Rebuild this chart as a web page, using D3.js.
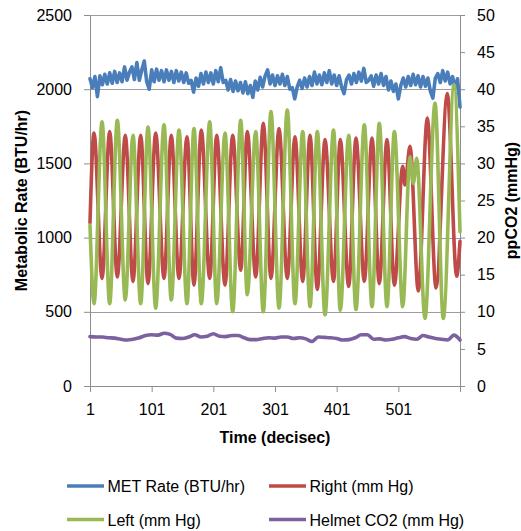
<!DOCTYPE html>
<html><head><meta charset="utf-8">
<script src="https://cdn.jsdelivr.net/npm/d3@7"></script>
<style>
body{margin:0;background:#fff}
svg{display:block;background:#fff}
text{font-family:"Liberation Sans",Arial,sans-serif;fill:#000}
</style>
</head><body>
<svg id="chart" width="521" height="531"></svg>
<script>
// ---------------- data ----------------
const timeTicks = [1, 101, 201, 301, 401, 501, 601];
const metTickValues = [0, 500, 1000, 1500, 2000, 2500];
const co2TickValues = [0, 5, 10, 15, 20, 25, 30, 35, 40, 45, 50];

// MET rate (BTU/hr), sampled every 4 deciseconds starting at t = 1
const metStart = 1, metStep = 4;
const metValues = [
  2070,2010,2085,1950,2090,2030,2100,2035,2110,2040,
  2120,2045,2110,2050,2150,2060,2115,2150,2065,2180,
  2060,2130,2190,2050,2000,2130,2050,2135,2060,2125,
  2050,2130,2060,2120,2045,2125,2055,2115,2045,2110,
  2040,2060,1980,2075,2020,2105,2035,2115,2045,2110,
  2035,2125,2050,2145,2045,2060,1995,2065,1985,2055,
  1990,2045,1975,2050,1970,2025,1945,2055,1995,2080,
  2015,2090,2130,2035,2095,2025,2090,2035,2100,2025,
  2085,2000,2010,1935,2015,2060,2005,2075,2015,2085,
  2025,2115,2035,2095,2030,2110,2045,2125,2035,2095,
  2025,2090,2015,1970,2065,2095,2035,2105,2045,2115,
  2055,2140,2045,2060,2090,2020,2095,2035,2105,2025,
  2085,1995,2055,1985,2035,1935,2025,2075,2015,2085,
  2025,2100,2030,2090,2015,2085,2020,2075,1985,1940,
  2075,2105,2045,2125,2055,2115,2035,2085,2005,2070,
  1880
];

// Helmet CO2 (mm Hg), sampled every 10 deciseconds starting at t = 1
const helmetStart = 1, helmetStep = 10;
const helmetValues = [
  6.65,6.6,6.6,6.5,6.45,6.3,6.2,6.3,6.5,6.8,
  6.9,6.85,7.1,6.95,6.45,6.4,6.6,6.9,6.6,6.7,
  7.05,6.7,6.65,6.8,6.8,6.5,6.25,6.25,6.4,6.5,
  6.45,6.6,6.6,6.4,6.5,6.35,6.0,6.6,6.55,6.5,
  6.4,6.2,6.25,6.5,6.9,6.9,6.3,6.35,6.2,6.3,
  6.5,6.65,6.4,6.3,6.8,6.6,6.4,6.3,6.2,6.85,
  6.2
];

// Right (mm Hg): turning points (time, value)
const rightTimes = [1,7.5,20.5,32.9,45.3,58.2,70.7,83.2,95.1,107.5,121,132.8,145.3,158.3,169.6,181.5,195.1,206.5,219.9,232.4,245.4,256.1,269.7,282,294.5,307.5,320.9,333.4,345.9,357.8,369.6,382.1,395.9,406.9,420.5,432.3,445.8,458.3,470.1,482.6,494.6,508.1,511.8,519.9,533.4,548,562.1,580.4,595.6,601];
const rightValues = [22,34.1,14.5,34.3,14.7,33.8,14.1,33.8,13.8,34.1,14.5,33.8,14.5,33.6,13.6,34.5,14.5,33.8,13.6,33.8,15.6,34.3,14.7,35.4,14.5,34.7,14.5,33.6,14.1,33.8,13.0,33.2,14.1,33.2,13.4,33.4,14.1,33.4,13.8,33.2,13.6,29.6,27.1,32.3,12.8,36.1,13.2,39.4,14.8,19.5];

// Left (mm Hg): turning points (time, value)
const leftTimes = [1,7.5,20.5,32.9,45.3,58.2,70.7,83.2,95.1,107.5,121,132.8,145.3,158.3,169.6,181.5,195.1,206.5,219.9,232.4,245.4,256.1,269.7,282,294.5,307.5,320.9,333.4,345.9,357.8,369.6,382.1,395.9,406.9,420.5,432.3,445.8,458.3,470.1,482.6,494.6,508.1,519.9,525.3,530.8,544.2,560.5,573.9,591.3,601];
const leftValues = [21.7,11.1,35.6,11.1,35.8,11.6,33.8,11.1,34.9,10.5,35.2,11.6,34.5,11.1,34.7,11.1,35.6,11.1,34.1,10.0,35.8,12.3,34.3,10.0,37.0,10.5,37.2,11.1,34.3,10.7,34.3,9.6,34.5,10.2,33.8,10.3,35.2,10.7,35.4,10.7,34.3,10.7,30.9,27.3,30.7,9.1,38.1,9.1,40.6,20.8];

const seriesNames = ["MET Rate (BTU/hr)", "Right (mm Hg)", "Left (mm Hg)", "Helmet CO2 (mm Hg)"];
const seriesColors = ["#4a7ebb", "#be4b48", "#98b954", "#7d60a0"];

// ---------------- layout ----------------
const svg = d3.select("#chart");
const L = 90, R = 460, T = 15, B = 386;
const x = d3.scaleLinear().domain([1, 601]).range([L, R]);
const yL = d3.scaleLinear().domain([0, 2500]).range([B, T]);
const yR = d3.scaleLinear().domain([0, 50]).range([B, T]);
const gridColor = "#9c9c9c", axisColor = "#8e8e8e";

// gridlines
svg.append("g").selectAll("line")
  .data(metTickValues.filter(v => v > 0)).join("line")
  .attr("x1", L).attr("x2", R)
  .attr("y1", d => Math.round(yL(d)) + 0.5).attr("y2", d => Math.round(yL(d)) + 0.5)
  .attr("stroke", gridColor).attr("stroke-width", 1);

function styleAxis(g) {
  g.attr("font-size", null).attr("font-family", null);
  g.select(".domain").attr("stroke", axisColor);
  g.selectAll(".tick line").attr("stroke", axisColor);
  g.selectAll(".tick text").style("font-size", "16px");
}

svg.append("g").attr("transform", `translate(${L},0)`)
  .call(d3.axisLeft(yL).tickValues(metTickValues).tickSize(6).tickSizeOuter(0).tickPadding(12)
    .tickFormat(d3.format("d")))
  .call(styleAxis);

svg.append("g").attr("transform", `translate(${R},0)`)
  .call(d3.axisRight(yR).tickValues(co2TickValues).tickSize(5).tickSizeOuter(0).tickPadding(12)
    .tickFormat(d3.format("d")))
  .call(styleAxis);

svg.append("g").attr("transform", `translate(0,${B})`)
  .call(d3.axisBottom(x).tickValues(timeTicks).tickSize(6).tickSizeOuter(0).tickPadding(12)
    .tickFormat(d => d === 601 ? "" : String(d)))
  .call(styleAxis);

// ---------------- series ----------------
const metData = metValues.map((v, i) => [metStart + i * metStep, v]);
const helmetData = helmetValues.map((v, i) => [helmetStart + i * helmetStep, v]);
const rightData = rightTimes.map((t, i) => [t, rightValues[i]]);
const leftData = leftTimes.map((t, i) => [t, leftValues[i]]);

const lineMet = d3.line().x(d => x(d[0])).y(d => yL(d[1])).curve(d3.curveLinear);
const lineCO2 = d3.line().x(d => x(d[0])).y(d => yR(d[1])).curve(d3.curveMonotoneX);

const plots = svg.append("g");
function addPath(data, gen, color) {
  plots.append("path").datum(data).attr("d", gen)
    .attr("fill", "none").attr("stroke", color).attr("stroke-width", 3.6)
    .attr("stroke-linejoin", "round").attr("stroke-linecap", "round");
}
addPath(metData, lineMet, seriesColors[0]);
addPath(rightData, lineCO2, seriesColors[1]);
addPath(leftData, lineCO2, seriesColors[2]);
addPath(helmetData, lineCO2, seriesColors[3]);

// ---------------- titles ----------------
svg.append("text").attr("transform", `translate(26.5,${(T + B) / 2}) rotate(-90)`)
  .attr("text-anchor", "middle").style("font-size", "16px").style("font-weight", "bold")
  .text("Metabolic Rate (BTU/hr)");
svg.append("text").attr("transform", `translate(517,${(T + B) / 2}) rotate(-90)`)
  .attr("text-anchor", "middle").style("font-size", "16px").style("font-weight", "bold")
  .text("ppCO2 (mmHg)");
svg.append("text").attr("x", (L + R) / 2).attr("y", 443)
  .attr("text-anchor", "middle").style("font-size", "16px").style("font-weight", "bold")
  .text("Time (decisec)");

// ---------------- legend ----------------
const legendPos = [[67, 486], [269, 486], [67, 519.5], [269, 519.5]];
const lg = svg.append("g").selectAll("g").data(seriesNames).join("g")
  .attr("transform", (d, i) => `translate(${legendPos[i][0]},${legendPos[i][1]})`);
lg.append("line").attr("x1", 0).attr("x2", 37).attr("y1", 0).attr("y2", 0)
  .attr("stroke", (d, i) => seriesColors[i]).attr("stroke-width", 3.6);
lg.append("text").attr("x", 40.5).attr("y", 6).style("font-size", "16px").text(d => d);
</script>
</body></html>
